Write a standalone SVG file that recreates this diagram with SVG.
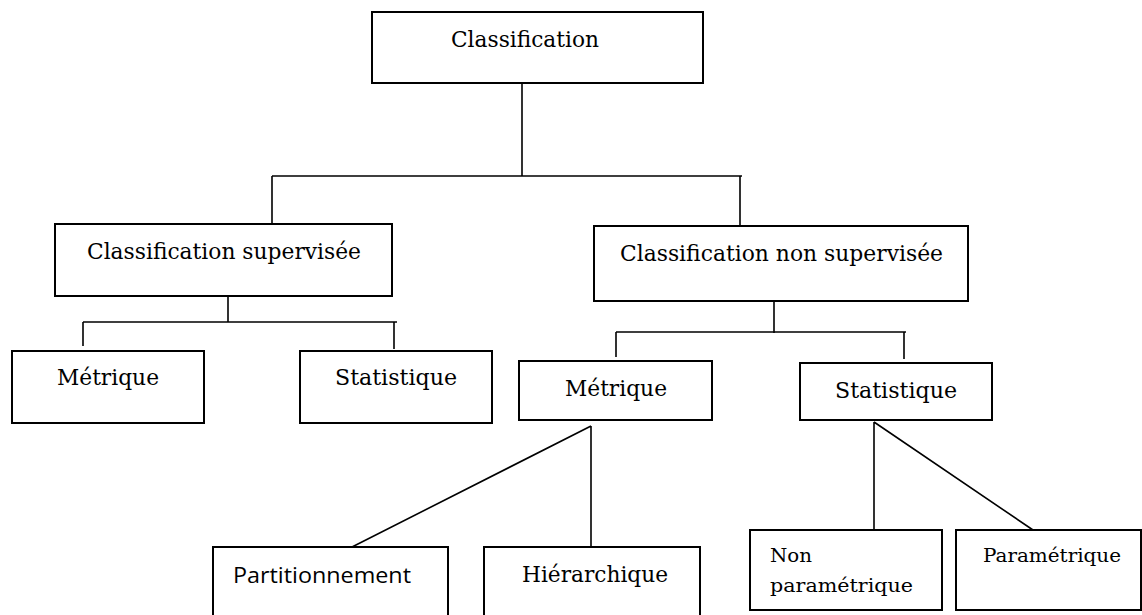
<svg xmlns="http://www.w3.org/2000/svg" width="1142" height="615" viewBox="0 0 1142 615">
<style>
.box{fill:#fff;stroke:#000;stroke-width:2}
.ln{fill:none;stroke:#000;stroke-width:1.6}
.t{font-family:"DejaVu Serif","Liberation Serif",serif;font-size:22px;fill:#000}
.ts{font-family:"DejaVu Serif","Liberation Serif",serif;font-size:19px;fill:#000}
.sans{font-family:"Open Sans","Noto Sans","Liberation Sans",sans-serif;font-size:22px;fill:#000}
</style>
<rect width="1142" height="615" fill="#fff"/>
<g id="connectors">
<path class="ln" d="M522 83V176M272 176H742M272 176V224M740 176V226"/>
<path class="ln" d="M228 296V322M83 322H397M83 322V346M394 322V349"/>
<path class="ln" d="M774 297V333M616 332H906M616 332V357M904 332V359"/>
<path class="ln" d="M591 426L352 547M591 426V547"/>
<path class="ln" d="M874 422V530M874 422L1033 530"/>
</g>
<g id="n-classification">
<rect class="box" x="372" y="12" width="331" height="71"/>
<text class="t" x="451" y="47" textLength="148" lengthAdjust="spacingAndGlyphs">Classification</text>
</g>
<g id="n-supervisee">
<rect class="box" x="55" y="224" width="337" height="72"/>
<text class="t" x="87" y="259" textLength="274" lengthAdjust="spacingAndGlyphs">Classification supervisée</text>
</g>
<g id="n-non-supervisee">
<rect class="box" x="594" y="226" width="374" height="75"/>
<text class="t" x="620" y="261" textLength="323" lengthAdjust="spacingAndGlyphs">Classification non supervisée</text>
</g>
<g id="n-metrique-1">
<rect class="box" x="12" y="351" width="192" height="72"/>
<text class="t" x="57" y="385" textLength="102" lengthAdjust="spacingAndGlyphs">Métrique</text>
</g>
<g id="n-statistique-1">
<rect class="box" x="300" y="351" width="192" height="72"/>
<text class="t" x="335" y="385" textLength="122" lengthAdjust="spacingAndGlyphs">Statistique</text>
</g>
<g id="n-metrique-2">
<rect class="box" x="519" y="361" width="193" height="59"/>
<text class="t" x="565" y="396" textLength="102" lengthAdjust="spacingAndGlyphs">Métrique</text>
</g>
<g id="n-statistique-2">
<rect class="box" x="800" y="363" width="192" height="57"/>
<text class="t" x="835" y="398" textLength="122" lengthAdjust="spacingAndGlyphs">Statistique</text>
</g>
<g id="n-partitionnement">
<rect class="box" x="213" y="547" width="235" height="80"/>
<text class="sans" x="233" y="583" textLength="178" lengthAdjust="spacingAndGlyphs">Partitionnement</text>
</g>
<g id="n-hierarchique">
<rect class="box" x="484" y="547" width="216" height="80"/>
<text class="t" x="522" y="582" textLength="146" lengthAdjust="spacingAndGlyphs">Hiérarchique</text>
</g>
<g id="n-non-parametrique">
<rect class="box" x="750" y="530" width="192" height="80"/>
<text class="ts" x="770" y="562" textLength="42" lengthAdjust="spacingAndGlyphs">Non</text>
<text class="ts" x="770" y="592" textLength="143" lengthAdjust="spacingAndGlyphs">paramétrique</text>
</g>
<g id="n-parametrique">
<rect class="box" x="956" y="530" width="185" height="80"/>
<text class="ts" x="983" y="562" textLength="138" lengthAdjust="spacingAndGlyphs">Paramétrique</text>
</g>
</svg>
